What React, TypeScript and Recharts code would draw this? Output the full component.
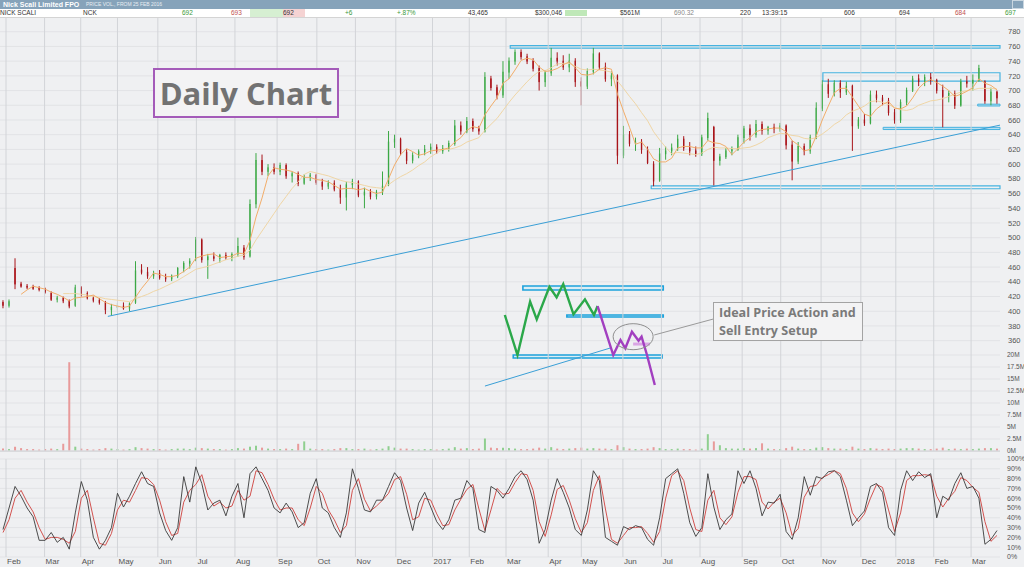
import React from "react";
import {
  Bar,
  CartesianGrid,
  Cell,
  ComposedChart,
  Line,
  ReferenceArea,
  ReferenceDot,
  ReferenceLine,
  XAxis,
  YAxis,
} from "recharts";

// NCK daily candles, one entry per ~3 trading days, Feb 2016 - Mar 2018
const opens = [
  412, 408, 458, 437, 434, 433, 431, 430, 424, 416,
  418, 414, 408, 432, 424, 418, 415, 412, 402, 405,
  407, 404, 412, 456, 453, 448, 451, 446, 444, 448,
  458, 465, 470, 497, 470, 474, 472, 476, 473, 478,
  486, 475, 546, 605, 590, 595, 590, 598, 584, 587,
  574, 582, 585, 575, 570, 574, 566, 555, 572, 576,
  558, 562, 556, 562, 572, 630, 634, 616, 605, 612,
  617, 620, 623, 618, 621, 628, 652, 645, 658, 648,
  645, 716, 704, 694, 725, 740, 752, 746, 740, 730,
  712, 724, 744, 740, 732, 740, 712, 706, 726, 750,
  732, 716, 720, 612, 640, 628, 630, 620, 600, 578,
  614, 618, 622, 634, 622, 618, 614, 636, 650, 605,
  610, 618, 620, 636, 648, 640, 654, 646, 650, 648,
  652, 626, 604, 624, 618, 636, 676, 708, 696, 710,
  698, 706, 652, 660, 656, 694, 690, 686, 670, 660,
  684, 700, 716, 712, 718, 714, 700, 692, 696, 680,
  712, 710, 714, 712, 686, 698,
];
const highs = [
  415, 416, 472, 440, 437, 436, 434, 432, 427, 421,
  420, 416, 436, 434, 427, 421, 418, 414, 410, 411,
  412, 412, 468, 464, 460, 455, 456, 451, 450, 460,
  468, 472, 501, 499, 478, 480, 478, 480, 480, 500,
  490, 552, 615, 613, 600, 601, 602, 601, 590, 590,
  586, 588, 587, 580, 578, 578, 572, 576, 580, 578,
  568, 566, 565, 590, 645, 640, 636, 620, 616, 620,
  626, 628, 627, 626, 632, 660, 658, 664, 662, 652,
  725, 720, 708, 740, 745, 756, 756, 750, 744, 734,
  728, 758, 752, 748, 750, 744, 718, 730, 758, 752,
  738, 726, 722, 652, 645, 636, 634, 624, 604, 622,
  624, 628, 640, 638, 630, 624, 640, 670, 652, 614,
  622, 624, 640, 652, 654, 660, 658, 652, 655, 656,
  654, 632, 630, 628, 640, 684, 714, 716, 714, 714,
  712, 708, 664, 668, 700, 700, 694, 690, 675, 688,
  704, 720, 722, 722, 724, 716, 708, 700, 700, 716,
  720, 722, 735, 714, 704, 700,
];
const lows = [
  404, 405, 430, 432, 430, 429, 427, 424, 414, 412,
  411, 404, 406, 420, 416, 412, 409, 396, 394, 401,
  402, 400, 410, 450, 444, 444, 443, 440, 441, 445,
  453, 458, 468, 466, 444, 468, 466, 470, 468, 474,
  470, 473, 540, 585, 584, 586, 585, 580, 575, 570,
  572, 577, 572, 565, 566, 563, 546, 537, 566, 555,
  540, 552, 552, 558, 570, 622, 612, 600, 601, 608,
  612, 614, 614, 614, 617, 625, 640, 642, 644, 640,
  643, 700, 688, 690, 716, 735, 742, 736, 726, 700,
  705, 720, 734, 728, 725, 705, 680, 702, 722, 728,
  712, 706, 600, 608, 624, 618, 614, 600, 570, 576,
  606, 612, 618, 618, 612, 610, 611, 632, 571, 598,
  607, 612, 618, 628, 632, 636, 640, 640, 642, 644,
  620, 578, 600, 612, 614, 634, 672, 690, 692, 690,
  694, 618, 648, 652, 654, 684, 680, 666, 655, 656,
  680, 698, 706, 706, 708, 696, 650, 684, 675, 678,
  704, 700, 712, 682, 680, 682,
];
const closes = [
  408, 413, 437, 434, 433, 431, 430, 426, 416, 418,
  414, 407, 432, 424, 418, 415, 412, 402, 405, 407,
  404, 410, 455, 453, 448, 451, 446, 444, 448, 458,
  465, 468, 497, 470, 474, 472, 476, 473, 477, 488,
  474, 545, 605, 590, 595, 590, 598, 584, 587, 574,
  582, 585, 575, 570, 574, 566, 555, 572, 576, 558,
  562, 556, 562, 570, 630, 634, 616, 605, 612, 617,
  620, 623, 618, 621, 628, 652, 645, 658, 648, 645,
  718, 704, 694, 725, 740, 752, 746, 740, 730, 712,
  724, 744, 740, 732, 740, 712, 706, 726, 750, 732,
  716, 720, 612, 640, 628, 630, 620, 602, 577, 614,
  618, 622, 634, 622, 618, 614, 636, 662, 605, 610,
  618, 620, 636, 648, 640, 654, 646, 650, 648, 652,
  626, 604, 624, 618, 636, 676, 708, 696, 710, 698,
  706, 652, 660, 656, 694, 690, 686, 670, 660, 684,
  700, 716, 712, 718, 714, 700, 692, 696, 680, 712,
  710, 714, 730, 686, 698, 690,
];
const maFast = [
  null, null, null, 423, 429, 434, 432, 430, 426, 423,
  419, 414, 418, 419, 420, 422, 417, 412, 409, 407,
  405, 407, 419, 431, 441, 452, 450, 447, 447, 449,
  454, 460, 472, 475, 477, 478, 473, 474, 475, 479,
  478, 496, 528, 554, 584, 595, 593, 592, 590, 586,
  582, 582, 579, 578, 576, 571, 566, 567, 567, 565,
  567, 563, 560, 562, 580, 599, 613, 621, 617, 612,
  614, 618, 619, 620, 622, 630, 636, 646, 651, 649,
  667, 679, 690, 710, 716, 728, 741, 744, 742, 732,
  726, 727, 730, 735, 739, 731, 722, 721, 723, 729,
  731, 729, 695, 672, 650, 627, 630, 620, 607, 603,
  603, 608, 622, 624, 624, 622, 622, 632, 629, 628,
  624, 613, 621, 630, 636, 644, 647, 648, 649, 649,
  644, 632, 626, 618, 620, 638, 660, 679, 697, 703,
  703, 691, 679, 668, 665, 675, 681, 685, 676, 675,
  679, 690, 703, 711, 715, 711, 706, 700, 692, 695,
  699, 704, 716, 710, 707, 701,
];
const maSlow = [
  null, null, null, null, null, null, null, null, null, null,
  424, 424, 424, 423, 422, 420, 419, 417, 416, 415,
  414, 413, 417, 420, 423, 427, 430, 434, 438, 442,
  447, 452, 457, 459, 461, 464, 467, 470, 472, 475,
  476, 483, 497, 509, 521, 533, 545, 556, 567, 576,
  586, 590, 588, 586, 584, 581, 578, 576, 575, 573,
  571, 569, 568, 567, 572, 578, 583, 587, 592, 598,
  603, 610, 615, 620, 620, 622, 625, 630, 633, 636,
  646, 654, 662, 673, 684, 694, 703, 712, 720, 726,
  727, 731, 736, 737, 737, 733, 729, 728, 729, 728,
  727, 725, 713, 703, 692, 682, 670, 659, 644, 633,
  623, 614, 616, 615, 614, 613, 615, 620, 623, 622,
  622, 621, 621, 622, 623, 626, 630, 636, 639, 642,
  641, 639, 638, 635, 634, 636, 641, 647, 654, 659,
  667, 672, 675, 679, 685, 686, 684, 681, 677, 674,
  673, 675, 680, 683, 686, 687, 689, 692, 695, 698,
  700, 701, 703, 703, 703, 702,
];
// volume in millions
const volumes = [
  0.5, 0.4, 0.9, 0.6, 0.4, 0.4, 0.3, 0.4, 0.5, 0.4,
  1.5, 18.5, 0.9, 0.5, 0.4, 0.3, 0.4, 0.6, 0.5, 0.4,
  0.3, 0.4, 0.8, 0.6, 0.5, 0.4, 0.4, 0.3, 0.4, 0.5,
  0.5, 0.4, 0.7, 0.6, 0.5, 0.4, 0.4, 0.3, 0.4, 0.6,
  0.5, 0.9, 1.1, 0.7, 0.5, 0.4, 0.4, 0.5, 0.4, 1.5,
  2.0, 0.5, 0.4, 0.4, 0.3, 0.4, 0.6, 0.6, 0.4, 0.4,
  0.5, 0.3, 0.4, 0.5, 1.0, 0.7, 0.5, 0.5, 0.4, 0.3,
  0.4, 0.4, 0.3, 0.4, 0.5, 0.8, 0.5, 0.6, 0.4, 0.5,
  2.6, 0.7, 0.6, 0.7, 0.6, 0.5, 0.4, 0.4, 0.5, 0.7,
  0.5, 0.8, 0.5, 0.4, 0.5, 0.6, 0.7, 0.5, 0.6, 0.5,
  0.5, 0.4, 1.2, 0.8, 0.5, 0.4, 0.4, 0.5, 0.8, 0.6,
  0.4, 0.4, 0.5, 0.4, 0.4, 0.3, 0.5, 3.5, 2.0, 1.2,
  0.6, 0.5, 0.5, 0.6, 0.5, 0.6, 1.6, 0.5, 0.4, 0.4,
  0.6, 0.9, 0.5, 0.4, 0.4, 0.7, 0.8, 0.6, 0.5, 0.5,
  0.4, 0.9, 0.5, 0.4, 0.6, 0.5, 0.4, 0.5, 0.4, 0.5,
  0.6, 0.6, 0.5, 0.4, 0.4, 0.5, 0.7, 0.4, 0.5, 0.4,
  0.5, 0.4, 0.5, 0.6, 0.6, 0.5,
];
const stochK = [
  28, 50, 72, 62, 50, 41, 17, 17, 25, 15,
  20, 8, 45, 77, 58, 20, 8, 17, 30, 65,
  51, 62, 75, 87, 75, 72, 45, 27, 17, 30,
  82, 56, 92, 75, 48, 55, 58, 42, 62, 75,
  40, 85, 92, 80, 68, 50, 45, 55, 46, 30,
  35, 65, 80, 50, 45, 30, 20, 45, 90, 70,
  48, 46, 58, 58, 72, 86, 78, 50, 27, 55,
  66, 51, 36, 28, 38, 58, 60, 78, 70, 28,
  25, 72, 68, 60, 70, 82, 88, 79, 58, 14,
  28, 58, 80, 66, 50, 28, 22, 48, 88, 78,
  20, 16, 12, 31, 28, 32, 30, 18, 12, 40,
  80, 85, 90, 65, 35, 21, 30, 85, 51, 28,
  38, 44, 88, 75, 88, 70, 42, 56, 55, 64,
  26, 18, 40, 82, 63, 82, 80, 87, 88, 82,
  58, 32, 40, 47, 72, 75, 66, 30, 22, 68,
  88, 78, 87, 81, 85, 40, 62, 58, 75, 86,
  70, 72, 60, 13, 18, 27,
];
const stochD = [
  25, 38, 60, 68, 56, 46, 30, 18, 20, 20,
  18, 14, 26, 60, 68, 40, 14, 12, 24, 48,
  58, 56, 68, 81, 80, 74, 58, 36, 22, 24,
  56, 68, 74, 84, 62, 52, 56, 50, 52, 68,
  58, 62, 88, 86, 74, 59, 48, 50, 50, 38,
  32, 50, 72, 65, 48, 38, 25, 32, 68, 80,
  59, 47, 52, 58, 65, 79, 82, 64, 38, 41,
  60, 58, 44, 32, 33, 48, 59, 69, 74, 49,
  27, 48, 70, 64, 65, 76, 85, 84, 68, 36,
  21, 43, 69, 73, 58, 39, 25, 35, 68, 83,
  49, 18, 14, 22, 30, 30, 31, 24, 15, 26,
  60, 83, 88, 78, 50, 28, 26, 58, 68, 40,
  33, 41, 66, 82, 82, 79, 56, 49, 56, 60,
  45, 22, 29, 61, 72, 73, 81, 84, 88, 85,
  70, 45, 36, 44, 60, 74, 71, 48, 26, 45,
  78, 83, 83, 84, 83, 62, 51, 60, 67, 81,
  78, 71, 66, 36, 16, 22,
];

const monthTicks = [
  1.0, 7.4, 13.4, 19.5, 26.2, 32.6, 39.0, 46.0, 52.6, 59.0, 65.7, 71.8, 77.9,
  84.0, 91.0, 96.5, 103.4, 109.8, 116.2, 123.2, 129.6, 136.3, 142.9, 148.7, 155.0, 161.2,
];
const monthLabels = [
  "Feb", "Mar", "Apr", "May", "Jun", "Jul", "Aug", "Sep", "Oct", "Nov", "Dec", "2017", "Feb",
  "Mar", "Apr", "May", "Jun", "Jul", "Aug", "Sep", "Oct", "Nov", "Dec", "2018", "Feb", "Mar",
];
const priceTicks = [360, 380, 400, 420, 440, 460, 480, 500, 520, 540, 560, 580, 600, 620, 640, 660, 680, 700, 720, 740, 760, 780];
const volumeTicks = [0, 2.5, 5, 7.5, 10, 12.5, 15, 17.5, 20];
const stochTicks = [0, 10, 20, 30, 40, 50, 60, 70, 80, 90, 100];

// hand-drawn "ideal price action" sketch, in chart coordinates
const greenX = [83.8, 85.9, 88.0, 89.1, 91.2, 92.4, 93.5, 95.2, 97.1, 98.6, 99.2];
const greenP = [394.9, 340.5, 413.0, 389.0, 433.3, 418.9, 437.0, 395.8, 416.2, 395.0, 407.1];
const purpleX = [99.2, 101.8, 103.0, 103.8, 104.9, 106.0, 106.5, 107.4, 108.7];
const purpleP = [407.1, 340.5, 360.9, 349.6, 372.2, 359.9, 365.4, 340.5, 299.7];

const FONT = "'Liberation Sans', Arial, sans-serif";
const BG = "#eff0f2";
const W = 1024;
const XMAX = 166;
const GRID_H = "#e2e3e6";
const GRID_V = "#d2d4d8";

const priceData = closes.map((c, i) => ({
  x: i + 0.5,
  o: opens[i],
  h: highs[i],
  l: lows[i],
  c,
  range: [lows[i], highs[i]],
  fast: maFast[i],
  slow: maSlow[i],
}));
const volumeData = volumes.map((v, i) => ({ x: i + 0.5, v, up: closes[i] >= opens[i] }));
const stochData = stochK.map((k, i) => ({ x: i + 0.5, k, d: stochD[i] }));
const greenData = greenX.map((x, i) => ({ x, p: greenP[i] }));
const purpleData = purpleX.map((x, i) => ({ x, p: purpleP[i] }));

const axisTick = { fontSize: 7.5, fill: "#555", fontFamily: FONT };
const volTick = { fontSize: 6.5, fill: "#555", fontFamily: FONT };
const pctTick = { fontSize: 7, fill: "#555", fontFamily: FONT };

const Candle = (props: any) => {
  const { x, y, width, height, payload } = props;
  const { o, h, l, c } = payload;
  const top = Math.min(y, y + height);
  const hgt = Math.abs(height);
  const ratio = hgt / Math.max(h - l, 0.001);
  const bTop = top + (h - Math.max(o, c)) * ratio;
  const bBot = top + (h - Math.min(o, c)) * ratio;
  const up = c >= o;
  const color = up ? "#3ba845" : "#a8141a";
  const cx = x + width / 2;
  return (
    <g>
      <line x1={cx} x2={cx} y1={top} y2={top + hgt} stroke={color} strokeWidth={1} />
      <rect
        x={x}
        y={bTop}
        width={width}
        height={Math.max(bBot - bTop, 1)}
        fill={up ? "#e4f3e2" : "#c4181f"}
        stroke={color}
        strokeWidth={0.8}
      />
    </g>
  );
};

const MonthTick = (props: any) => {
  const { x, y, payload } = props;
  const idx = monthTicks.indexOf(payload.value);
  return (
    <text x={x + 1} y={y + 7} fontSize={8} fill="#555" fontFamily={FONT}>
      {monthLabels[idx]}
    </text>
  );
};

const monthLines = () =>
  monthTicks.map((t) => <ReferenceLine key={`m${t}`} x={t} stroke={GRID_V} strokeWidth={1} />);

const boxStroke = "#46b3e0";

function Header() {
  const cell = (left: number, text: string, color = "#333", bg?: string, width?: number) => (
    <div
      style={{
        position: "absolute",
        left,
        top: 0,
        height: 8,
        width,
        background: bg,
        color,
        fontSize: 6.5,
        lineHeight: "8px",
        whiteSpace: "nowrap",
      }}
    >
      {text}
    </div>
  );
  return (
    <>
      <div style={{ position: "absolute", left: 0, top: 0, width: W, height: 9, background: "#86a3ba", overflow: "hidden" }}>
        <span
          style={{
            position: "absolute",
            left: 3,
            top: 0,
            color: "#fff",
            fontWeight: 700,
            fontSize: 7,
            lineHeight: "9px",
            fontFamily: FONT,
            whiteSpace: "nowrap",
          }}
        >
          Nick Scali Limited FPO
        </span>
        <span
          style={{
            position: "absolute",
            left: 86,
            top: 0,
            color: "#e8eef3",
            fontSize: 5,
            lineHeight: "9px",
            fontFamily: FONT,
            whiteSpace: "nowrap",
          }}
        >
          PRICE VOL., FROM 25 FEB 2016
        </span>
        <div style={{ position: "absolute", left: 1012, top: 0, width: 10, height: 7, border: "1px solid #c9d6e0" }} />
      </div>
      <div
        style={{
          position: "absolute",
          left: 0,
          top: 9,
          width: W,
          height: 8,
          background: "#fff",
          borderBottom: "1px solid #d4d4d4",
          fontFamily: FONT,
        }}
      >
        {cell(0, "NICK SCALI")}
        {cell(83, "NCK")}
        {cell(182, "692", "#3a9a3a")}
        {cell(231, "693", "#c05050")}
        <div style={{ position: "absolute", left: 250, top: 0, width: 33, height: 8, background: "#d6efd2" }} />
        {cell(283, " 692", "#333", "#f5d3d3", 22)}
        {cell(345, "+6", "#3a9a3a")}
        {cell(397, "+.87%", "#3a9a3a")}
        {cell(468, "43,465")}
        {cell(535, "$300,046")}
        <div style={{ position: "absolute", left: 565, top: 1, width: 22, height: 6, background: "#bfe8b8" }} />
        {cell(620, "$561M")}
        {cell(674, "690.32", "#888")}
        {cell(740, "220")}
        {cell(762, "13:39:15")}
        {cell(844, "606")}
        {cell(899, "694")}
        {cell(955, "684", "#c05050")}
        {cell(1005, "697", "#3a9a3a")}
      </div>
    </>
  );
}

export default function App() {
  return (
    <div
      style={{
        position: "absolute",
        left: 0,
        top: 0,
        width: W,
        height: 567,
        overflow: "hidden",
        background: BG,
        fontFamily: FONT,
      }}
    >
      {/* volume panel */}
      <div style={{ position: "absolute", left: 0, top: 345 }}>
        <ComposedChart width={W} height={112} data={volumeData} margin={{ top: 10, right: 0, bottom: 6, left: 0 }}>
          <CartesianGrid vertical={false} stroke={GRID_H} />
          <XAxis type="number" dataKey="x" domain={[0, XMAX]} hide height={0} />
          <YAxis
            orientation="right"
            domain={[0, 20]}
            ticks={volumeTicks}
            interval={0}
            width={24}
            tickLine={false}
            axisLine={false}
            tickMargin={1}
            tick={volTick}
            tickFormatter={(v: number) => `${v}M`}
            allowDataOverflow
          />
          <Bar dataKey="v" barSize={2} isAnimationActive={false}>
            {volumeData.map((d, i) => (
              <Cell key={i} fill={d.up ? "#8fcf8f" : "#e89a9a"} />
            ))}
          </Bar>
          <ReferenceLine y={0} stroke="#c9cacd" />
        </ComposedChart>
      </div>

      {/* price panel */}
      <div style={{ position: "absolute", left: 0, top: 0 }}>
        <ComposedChart width={W} height={451} data={priceData} margin={{ top: 17, right: 0, bottom: 0, left: 0 }}>
          <CartesianGrid vertical={false} stroke={GRID_H} />
          <XAxis
            type="number"
            dataKey="x"
            domain={[0, XMAX]}
            ticks={monthTicks}
            interval={0}
            tick={false}
            tickLine={false}
            axisLine={false}
            height={0}
            allowDataOverflow
          />
          <YAxis
            orientation="right"
            domain={[210, 800]}
            ticks={priceTicks}
            interval={0}
            width={24}
            tickLine={false}
            axisLine={false}
            tickMargin={2}
            tick={axisTick}
            allowDataOverflow
          />
          {monthLines()}
          <Bar dataKey="range" barSize={4} shape={Candle} isAnimationActive={false} />
          <Line dataKey="slow" stroke="#efd6a6" strokeWidth={1} dot={false} isAnimationActive={false} />
          <Line dataKey="fast" stroke="#f2ad6a" strokeWidth={1} dot={false} isAnimationActive={false} />

          {/* support / resistance boxes */}
          <ReferenceArea x1={84.7} x2={XMAX} y1={757.8} y2={761} fill="none" stroke={boxStroke} strokeWidth={1.2} />
          <ReferenceArea x1={136.6} x2={XMAX} y1={712.8} y2={724.2} fill="none" stroke={boxStroke} strokeWidth={1.2} />
          <ReferenceArea x1={162.3} x2={XMAX} y1={679} y2={681.5} fill="#7fcbec" stroke={boxStroke} strokeWidth={1} />
          <ReferenceArea x1={146.6} x2={XMAX} y1={647} y2={650} fill="#7fcbec" stroke={boxStroke} strokeWidth={1} />
          <ReferenceArea x1={108.1} x2={XMAX} y1={566.5} y2={570.5} fill="none" stroke={boxStroke} strokeWidth={1.2} />
          <ReferenceLine segment={[{ x: 17.9, y: 393 }, { x: XMAX, y: 653 }]} stroke="#3a9fd6" strokeWidth={1} />

          {/* sketch */}
          <ReferenceArea x1={86.8} x2={110.1} y1={428.9} y2={434.3} fill="#c8ebf8" stroke="#1ea2dc" strokeWidth={1.6} />
          <ReferenceArea x1={94.1} x2={110.1} y1={392.2} y2={394.9} fill="#c8ebf8" stroke="#1ea2dc" strokeWidth={1.6} />
          <ReferenceArea x1={85.2} x2={109.9} y1={336.4} y2={340.5} fill="#c8ebf8" stroke="#1ea2dc" strokeWidth={1.6} />
          <ReferenceLine segment={[{ x: 80.5, y: 298.3 }, { x: 101.3, y: 350 }]} stroke="#3a9fd6" strokeWidth={1} />
          <ReferenceLine segment={[{ x: 105.1, y: 355.4 }, { x: 107.9, y: 355.4 }]} stroke="#d9a6e4" strokeWidth={3} />
          <ReferenceDot
            x={105.1}
            y={365.4}
            r={13}
            shape={(p: any) => <ellipse cx={p.cx} cy={p.cy} rx={20} ry={13} fill="none" stroke="#8e8e8e" strokeWidth={1} />}
          />
          <ReferenceLine segment={[{ x: 108.6, y: 367.7 }, { x: 118.4, y: 389.4 }]} stroke="#9a9a9a" strokeWidth={1} />
          <Line data={greenData} dataKey="p" stroke="#2ba84a" strokeWidth={2.4} dot={false} isAnimationActive={false} />
          <Line data={purpleData} dataKey="p" stroke="#a23fc0" strokeWidth={2.4} dot={false} isAnimationActive={false} />
        </ComposedChart>
      </div>

      {/* stochastic panel */}
      <div style={{ position: "absolute", left: 0, top: 452 }}>
        <ComposedChart width={W} height={115} data={stochData} margin={{ top: 7, right: 0, bottom: 0, left: 0 }}>
          <CartesianGrid vertical={false} stroke={GRID_H} />
          <XAxis
            type="number"
            dataKey="x"
            domain={[0, XMAX]}
            ticks={monthTicks}
            interval={0}
            tick={<MonthTick />}
            tickLine={false}
            tickSize={0}
            tickMargin={0}
            axisLine={false}
            height={10}
            allowDataOverflow
          />
          <YAxis
            orientation="right"
            domain={[0, 100]}
            ticks={stochTicks}
            interval={0}
            width={24}
            tickLine={false}
            axisLine={false}
            tickMargin={1}
            tick={pctTick}
            tickFormatter={(v: number) => `${v}%`}
          />
          {monthLines()}
          <Line dataKey="d" stroke="#d2524f" strokeWidth={1} dot={false} isAnimationActive={false} />
          <Line dataKey="k" stroke="#3a3a3a" strokeWidth={0.9} dot={false} isAnimationActive={false} />
        </ComposedChart>
      </div>

      <Header />

      <div
        style={{
          position: "absolute",
          left: 153,
          top: 68,
          width: 182,
          height: 46,
          border: "2px solid #a45bb9",
          background: "#f3f3f4",
          color: "#727272",
          fontFamily: "'Open Sans', sans-serif",
          fontWeight: 700,
          fontSize: 31,
          lineHeight: "46px",
          textAlign: "center",
        }}
      >
        Daily Chart
      </div>
      <div
        style={{
          position: "absolute",
          left: 713,
          top: 302,
          width: 143,
          height: 36,
          border: "1px solid #a3a3a3",
          background: "#f3f3f4",
          color: "#7a7a7a",
          fontFamily: "'Open Sans', sans-serif",
          fontWeight: 700,
          fontSize: 12.6,
          lineHeight: "18px",
          paddingLeft: 5,
          paddingTop: 1,
          whiteSpace: "nowrap",
        }}
      >
        Ideal Price Action and
        <br />
        Sell Entry Setup
      </div>
    </div>
  );
}
